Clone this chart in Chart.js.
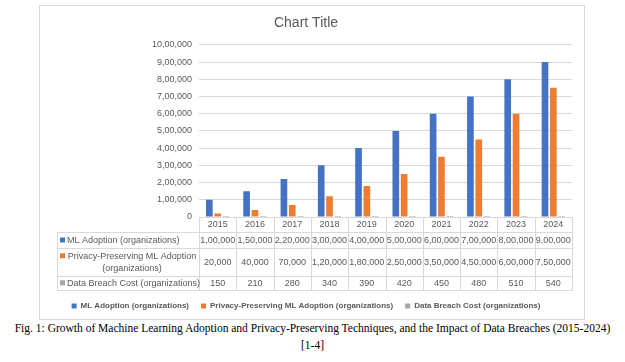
<!DOCTYPE html>
<html>
<head>
<meta charset="utf-8">
<script src="https://cdn.jsdelivr.net/npm/chart.js@4"></script>
<style>
    body { margin: 0; background: #fff; }
    #box {
        position: absolute; left: 39px; top: 5px;
        width: 546px; height: 315px; box-sizing: border-box;
        border: 1px solid #d9d9d9;
    }
    #wrap { position: relative; width: 544px; height: 313px; }
    #caption {
        position: absolute; left: 0; top: 320px; width: 625px;
        text-align: center; font-family: "Liberation Serif", serif;
        font-size: 11.5px; line-height: 17px; color: #000; white-space: nowrap;
    }
</style>
</head>
<body>
<div id="box"><div id="wrap"><canvas id="chart"></canvas></div></div>
<div id="caption">Fig. 1: Growth of Machine Learning Adoption and Privacy-Preserving Techniques, and the Impact of Data Breaches (2015-2024)<br>[1-4]</div>
<script>
const years = ['2015', '2016', '2017', '2018', '2019', '2020', '2021', '2022', '2023', '2024'];
const mlAdoption = [100000, 150000, 220000, 300000, 400000, 500000, 600000, 700000, 800000, 900000];
const ppAdoption = [20000, 40000, 70000, 120000, 180000, 250000, 350000, 450000, 600000, 750000];
const breachCost = [150, 210, 280, 340, 390, 420, 450, 480, 510, 540];

const seriesNames = ['ML Adoption (organizations)', 'Privacy-Preserving ML Adoption (organizations)', 'Data Breach Cost (organizations)'];
// the long name wraps in the table
const tableNames = [['ML Adoption (organizations)'], ['Privacy-Preserving ML Adoption', '(organizations)'], ['Data Breach Cost (organizations)']];

const colors = ['#4472C4', '#ED7D31', '#A5A5A5'];
const textColor = '#595959';
const lineColor = '#d9d9d9';
const fontName = '"Liberation Sans", Arial, sans-serif';

// indian digit grouping, 10,00,000
function inr(n) {
    const s = String(n);
    if (s.length <= 3) return s;
    const rest = s.slice(0, -3).replace(/\B(?=(\d{2})+(?!\d))/g, ',');
    return rest + ',' + s.slice(-3);
}

// data table under the plot, columns follow the x scale
const rowHeights = [15, 16, 27.5, 14.5];
const tablePlugin = {
    id: 'dataTable',
    afterDraw(chart) {
        const { ctx, chartArea } = chart;
        const x = chart.scales.x;
        const half = (x.getPixelForValue(1) - x.getPixelForValue(0)) / 2;
        const left = chartArea.left;
        const right = chartArea.right;
        const labelLeft = 17;
        const ys = [chartArea.bottom];
        rowHeights.forEach(h => ys.push(ys[ys.length - 1] + h));

        ctx.save();
        ctx.strokeStyle = lineColor;
        ctx.lineWidth = 1;
        ctx.beginPath();
        ctx.moveTo(left, Math.round(ys[0]) + 0.5);
        ctx.lineTo(right, Math.round(ys[0]) + 0.5);
        for (let r = 1; r < ys.length; r++) {
            ctx.moveTo(labelLeft, Math.round(ys[r]) + 0.5);
            ctx.lineTo(right, Math.round(ys[r]) + 0.5);
        }
        ctx.moveTo(labelLeft + 0.5, Math.round(ys[1]));
        ctx.lineTo(labelLeft + 0.5, Math.round(ys[4]) + 1);
        for (let i = 0; i <= years.length; i++) {
            const px = Math.round(x.getPixelForValue(i) - half) + 0.5;
            ctx.moveTo(px, Math.round(ys[0]));
            ctx.lineTo(px, Math.round(ys[4]) + 1);
        }
        ctx.stroke();

        ctx.font = '9px ' + fontName;
        ctx.fillStyle = textColor;
        ctx.textAlign = 'center';
        ctx.textBaseline = 'middle';
        years.forEach((y, i) => {
            ctx.fillText(y, x.getPixelForValue(i), (ys[0] + ys[1]) / 2 + 0.5);
        });

        chart.data.datasets.forEach((ds, r) => {
            const cy = (ys[r + 1] + ys[r + 2]) / 2 + 0.5;
            ds.data.forEach((v, i) => {
                ctx.fillStyle = textColor;
                ctx.textAlign = 'center';
                ctx.fillText(inr(v), x.getPixelForValue(i), cy);
            });
            const lines = tableNames[r];
            ctx.fillStyle = ds.backgroundColor;
            if (lines.length === 1) {
                ctx.fillRect(labelLeft + 3, cy - 3, 5, 5);
                ctx.fillStyle = textColor;
                ctx.textAlign = 'left';
                ctx.fillText(lines[0], labelLeft + 10, cy);
            } else {
                ctx.fillRect(labelLeft + 3, cy - 9, 5, 5);
                ctx.fillStyle = textColor;
                ctx.textAlign = 'center';
                const mid = (labelLeft + 10 + left - 2) / 2;
                ctx.fillText(lines[0], mid, cy - 6);
                ctx.fillText(lines[1], mid, cy + 6);
            }
        });
        ctx.restore();
    }
};

const ctx = document.getElementById('chart').getContext('2d');
const chart = new Chart(ctx, {
    type: 'bar',
    data: {
        labels: years,
        datasets: [
            { label: seriesNames[0], data: mlAdoption, backgroundColor: colors[0] },
            { label: seriesNames[1], data: ppAdoption, backgroundColor: colors[1] },
            { label: seriesNames[2], data: breachCost, backgroundColor: colors[2] }
        ]
    },
    options: {
        responsive: true,
        maintainAspectRatio: false,
        animation: false,
        datasets: {
            bar: { categoryPercentage: 0.67, barPercentage: 0.8, borderWidth: 0 }
        },
        layout: { padding: { left: 0, right: 12, top: 0, bottom: -1 } },
        scales: {
            x: {
                grid: { display: false },
                border: { display: false },
                ticks: { display: false },
                afterFit: s => { s.height = 73; }
            },
            y: {
                min: 0,
                max: 1000000,
                grid: { color: lineColor, drawTicks: false },
                border: { display: false },
                ticks: {
                    stepSize: 100000,
                    padding: 7,
                    color: textColor,
                    font: { family: fontName, size: 9 },
                    callback: v => inr(v)
                },
                afterFit: s => { s.width = 159; }
            }
        },
        plugins: {
            title: {
                display: true,
                text: 'Chart Title',
                color: textColor,
                font: { family: fontName, size: 14, weight: 'normal' },
                padding: { top: 9, bottom: 13 }
            },
            legend: {
                position: 'bottom',
                labels: {
                    boxWidth: 5,
                    boxHeight: 5,
                    padding: 12,
                    color: textColor,
                    font: { family: fontName, size: 8, weight: 'bold' }
                }
            },
            tooltip: { enabled: false }
        }
    },
    plugins: [tablePlugin]
});
</script>
</body>
</html>
